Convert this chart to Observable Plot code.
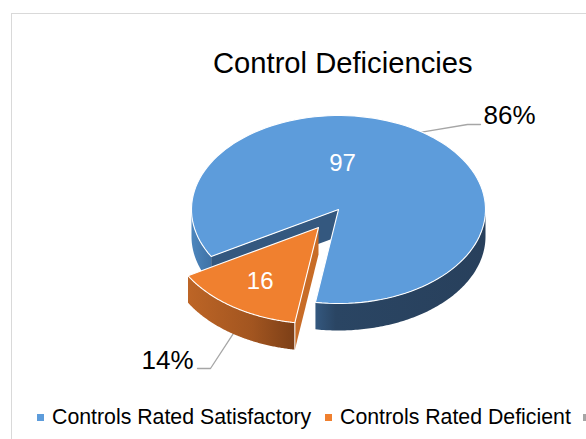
<!DOCTYPE html>
<html>
<head>
<meta charset="utf-8">
<script src="https://cdn.jsdelivr.net/npm/d3@7"></script>
<script src="https://cdn.jsdelivr.net/npm/@observablehq/plot@0.6"></script>
<style>
  html,body{margin:0;padding:0;background:#fff;overflow:hidden;width:586px;height:439px;font-family:"Liberation Sans",Arial,sans-serif;color:#000}
  #frame{position:absolute;left:11px;top:13px;width:600px;height:460px;border-left:1.5px solid #d9d9d9;border-top:1.5px solid #d9d9d9;box-sizing:border-box}
  #title{position:relative;height:90px;box-sizing:border-box;padding-top:46px;padding-left:213px;font-size:29.2px;line-height:34px;white-space:nowrap}
  #chart{position:relative;height:305px}
  #chart svg{display:block;background:transparent}
  #legend{position:relative;height:44px;white-space:nowrap;font-size:21.3px;line-height:24px;width:586px;overflow:hidden}
  #legend span.s{position:absolute;top:19px;width:7px;height:7px}
  #legend span.t{position:absolute;top:10px}
</style>
</head>
<body>
<div id="frame"></div>
<div id="title"></div>
<div id="chart"></div>
<div id="legend"></div>
<script>
const chartTitle = "Control Deficiencies";
const categories = ["Controls Rated Satisfactory", "Controls Rated Deficient"];
const counts = [97, 16];
const percents = ["86%", "14%"];
const topColors = ["#5D9CDB", "#F0802F"];
const extraSwatch = "#A5A5A5";

// view: pie centre and radii in pixels of the SVG
const W = 586, H = 305, cx = 338, cy = 119, rx = 147, ry = 94;
const depth = 27 / ry;
const startDeg = 240;                       // first slice starts here, clockwise from north
const explode = {dx: -20 / rx, dy: -18 / ry};
const orangeR = 1.025;

const total = d3.sum(counts);
const rad = d => d * Math.PI / 180;
const P = (deg, r = 1, o = {dx: 0, dy: 0}, drop = 0) =>
  ({x: o.dx + r * Math.sin(rad(deg)), y: o.dy + r * Math.cos(rad(deg)) - drop});

const a0 = startDeg, a1 = a0 + counts[0] / total * 360, a2 = a1 + counts[1] / total * 360;
const arc = (from, to, o, drop = 0, r = 1, n = 120) =>
  d3.range(n + 1).map(i => P(from + (to - from) * i / n, r, o, drop));
const none = {dx: 0, dy: 0};
const centre = (o, drop = 0) => ({x: o.dx, y: o.dy - drop});

const blueTop = [centre(none), ...arc(a0, a1, none), centre(none)];
const orangeTop = [centre(explode), ...arc(a1, a2, explode, 0, orangeR), centre(explode)];
const poly = (pts, fill, stroke = "none", sw = 0) =>
  Plot.line(pts, {x: "x", y: "y", fill, stroke, strokeWidth: sw, curve: "linear"});
const wallPoly = (from, to, o, r = 1) => {
  const pts = [...arc(from, to, o, 0, r), ...arc(to, from, o, depth, r)];
  return [...pts, pts[0]];
};

const blueCut = [centre(none), P(a0), P(a0, 1, none, depth), centre(none, depth), centre(none)];
const orangeCut = [centre(explode), P(a1, orangeR, explode), P(a1, orangeR, explode, depth), centre(explode, depth), centre(explode)];

// label anchors
const leader86 = [P(a0 + (a1 - a0) / 2), {x: 129 / rx, y: 85 / ry}, {x: 142 / rx, y: 85 / ry}];
const mid2 = a1 + (a2 - a1) / 2;
const leader14 = [P(mid2, orangeR, explode, depth), {x: -128 / rx, y: -159 / ry}, {x: -141 / rx, y: -159 / ry}];
const valueLabels = [
  {x: 4 / rx, y: 46 / ry, t: String(counts[0])},
  {...P(mid2, 0.7, explode), t: String(counts[1])}
];
const pctLabels = [
  {x: 171 / rx, y: 94 / ry, t: percents[0]},
  {x: -171 / rx, y: -151 / ry, t: percents[1]}
];

// horizontal shading of the pie walls
const gradients = {
  gFront: [[0, "#34587f"], [0.12, "#2a4563"], [1, "#28405c"]],
  gLeft: [[0, "#4d86bd"], [1, "#3f72a6"]],
  gOrange: [[0, "#bd6526"], [0.6, "#a25520"], [1, "#7c3f17"]]
};
function defs() {
  const d = d3.create("svg:defs");
  for (const [id, stops] of Object.entries(gradients)) {
    const g = d.append("linearGradient").attr("id", id);
    for (const [o, c] of stops) g.append("stop").attr("offset", o).attr("stop-color", c);
  }
  return d.node();
}

const font = {fontFamily: "'Liberation Sans', Arial, sans-serif"};
const plot = Plot.plot({
  width: W, height: H, margin: 0,
  x: {domain: [-cx / rx, (W - cx) / rx], range: [0, W], axis: null},
  y: {domain: [cy / ry, -(H - cy) / ry], range: [0, H], axis: null},
  style: {background: "transparent", overflow: "visible"},
  marks: [
    defs,
    Plot.line(leader86, {x: "x", y: "y", stroke: "#a6a6a6", strokeWidth: 1.3}),
    Plot.line(leader14, {x: "x", y: "y", stroke: "#a6a6a6", strokeWidth: 1.3}),
    poly(wallPoly(a1, 450, none), "url(#gFront)"),
    poly(wallPoly(a0, 270, none), "url(#gLeft)"),
    poly(blueCut, "#34587f"),
    poly(blueTop, topColors[0], "#ffffff", 1.1),
    poly(orangeCut, "#c86c27"),
    poly(wallPoly(a1, a2, explode, orangeR), "url(#gOrange)"),
    Plot.line([P(a1, orangeR, explode), P(a1, orangeR, explode, depth)], {x: "x", y: "y", stroke: "#fff", strokeWidth: 1}),
    poly(orangeTop, topColors[1], "#ffffff", 1.1),
    Plot.text(valueLabels, {x: "x", y: "y", text: "t", fill: "#fff", fontSize: 24, ...font}),
    Plot.text(pctLabels, {x: "x", y: "y", text: "t", fill: "#000", fontSize: 26, ...font})
  ]
});
document.getElementById("chart").append(plot);
document.getElementById("title").textContent = chartTitle;

const legend = document.getElementById("legend");
const lx = [[37, 52], [325, 340]];
categories.forEach((c, i) => {
  const s = document.createElement("span"); s.className = "s";
  s.style.left = lx[i][0] + "px"; s.style.background = topColors[i]; legend.append(s);
  const t = document.createElement("span"); t.className = "t";
  t.style.left = lx[i][1] + "px"; t.textContent = c; legend.append(t);
});
const s3 = document.createElement("span"); s3.className = "s";
s3.style.left = "583px"; s3.style.background = extraSwatch; legend.append(s3);
</script>
</body>
</html>
